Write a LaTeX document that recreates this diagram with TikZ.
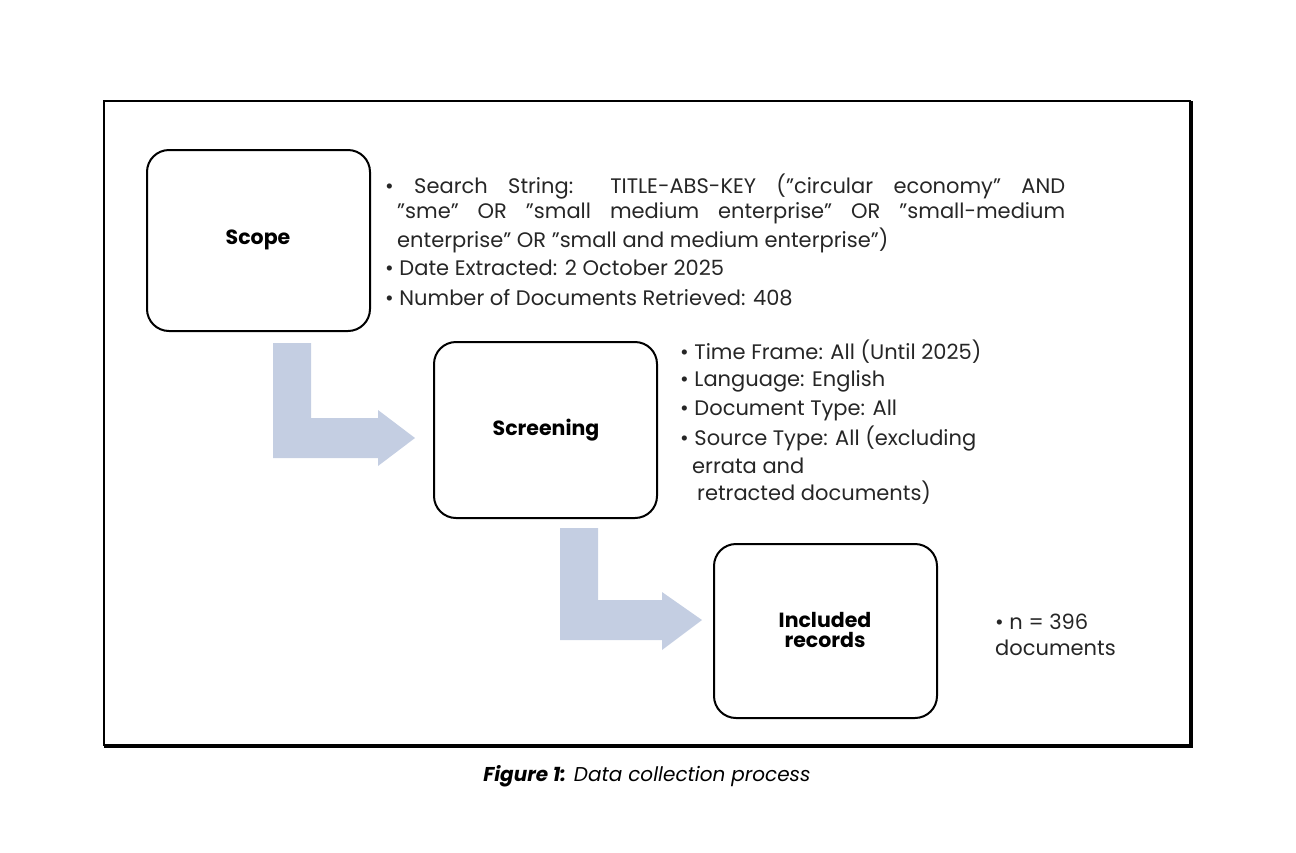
\documentclass[tikz,border=0pt]{standalone}
\usepackage{fontspec}
\setmainfont{Poppins}
\newcommand\qq{\symbol{34}}
\begin{document}
\begin{tikzpicture}[x=1pt,y=-1pt,
  box/.style={draw=black,line width=2pt,rounded corners=22pt},
  lbl/.style={font=\fontsize{20.5}{24}\selectfont\bfseries,align=center},
  txt/.style={anchor=west,inner sep=0pt,font=\fontsize{21}{24}\selectfont,text=black!85},
  arr/.style={fill={rgb,255:red,196;green,206;blue,226},draw=none}]
\useasboundingbox (0,0) rectangle (1296,852);
\draw[line width=1.5pt] (104,101) rectangle (1190,745);
\draw[line width=3pt] (1191,101) -- (1191,746) -- (104,746);
% boxes
\draw[box] (147,150) rectangle (370,331);
\draw[box] (434,342) rectangle (657,518);
\draw[box] (714,544) rectangle (937,718);
\node[lbl] (scope) at (258,240) {Scope};
\node[lbl] (scr) at (546,430) {Screening};
\node[lbl] (inc) at (825,630) {Included\\[-4pt]records};
% arrows
\fill[arr] (273,343) -- (311,343) -- (311,418) -- (378,418) -- (378,410) -- (415,438) -- (378,466) -- (378,458) -- (273,458) -- cycle;
\fill[arr] (560,528) -- (598,528) -- (598,600) -- (662,600) -- (662,592) -- (702,620) -- (662,650) -- (662,640) -- (560,640) -- cycle;
% scope text
\node[txt] (s1) at (385,187) {\makebox[680pt][s]{• Search String: TITLE-ABS-KEY (\qq circular economy\qq{} AND}};
\node[txt] (s2) at (397,213) {\makebox[668pt][s]{\qq sme\qq{} OR \qq small medium enterprise\qq{} OR \qq small-medium}};
\node[txt] (s3) at (397,240) {enterprise\qq{} OR \qq small and medium enterprise\qq)};
\node[txt] (s4) at (385,268) {• Date Extracted: 2 October 2025};
\node[txt] (s5) at (385,298) {• Number of Documents Retrieved: 408};
% screening text
\node[txt] (t1) at (680,352) {• Time Frame: All (Until 2025)};
\node[txt] (t2) at (680,381) {• Language: English};
\node[txt] (t3) at (680,410) {• Document Type: All};
\node[txt] (t4) at (680,439) {• Source Type: All (excluding};
\node[txt] (t5) at (692,466) {errata and};
\node[txt] (t6) at (697,493) {retracted documents)};
% included text
\node[txt] (n1) at (995,622) {• n = 396};
\node[txt] (n2) at (995,648) {documents};
% caption
\node[inner sep=0pt,font=\fontsize{20}{24}\selectfont\itshape] (cap) at (647,776) {\textbf{Figure 1:} Data collection process};
\end{tikzpicture}
\end{document}
